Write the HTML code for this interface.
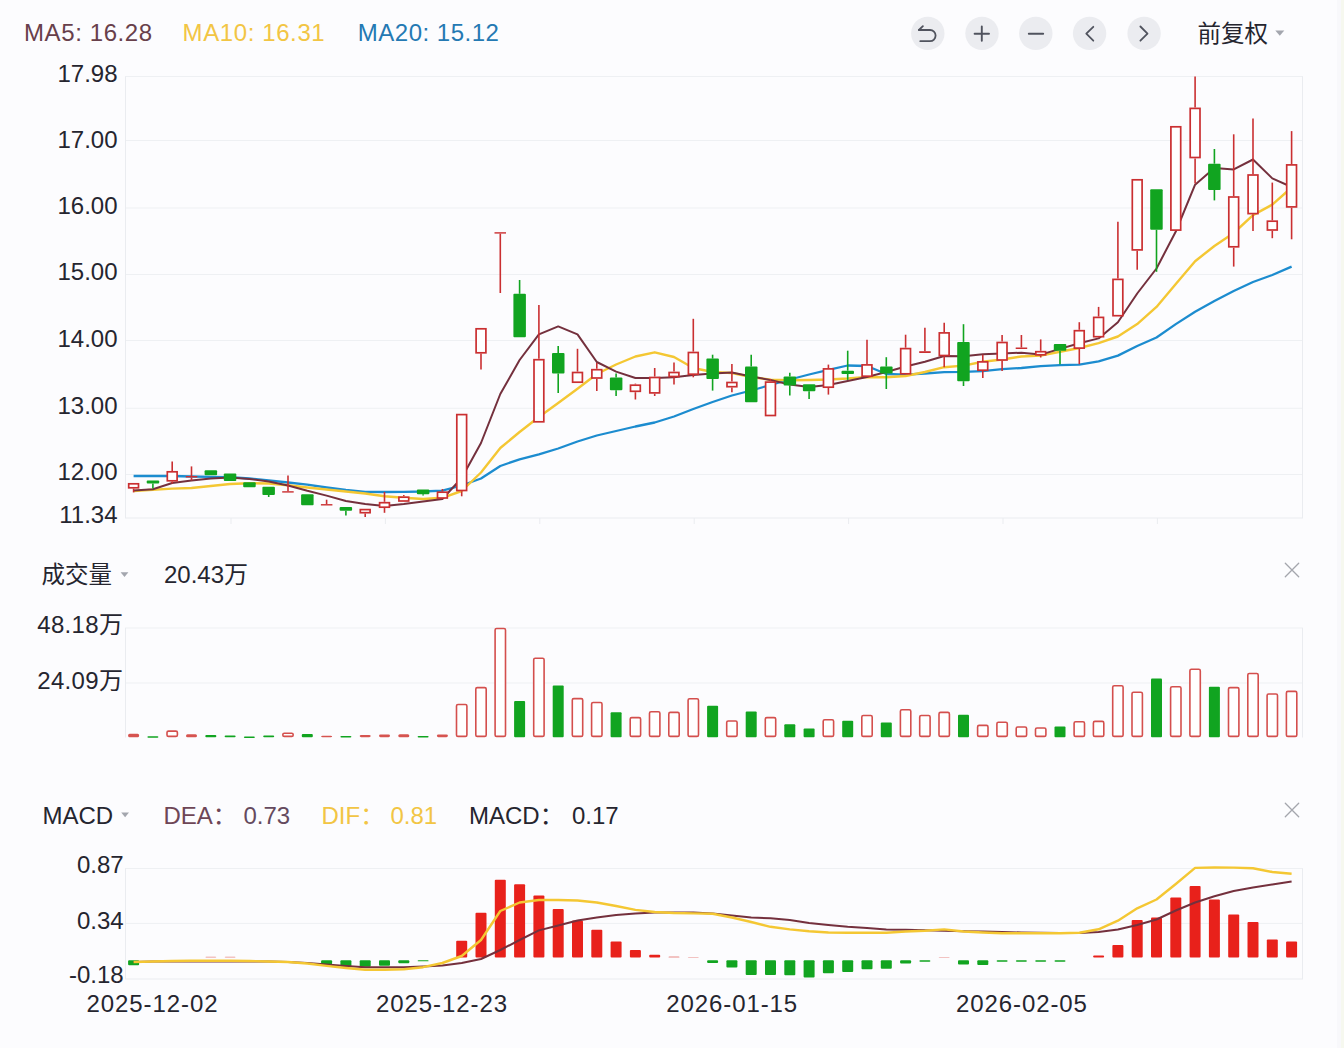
<!DOCTYPE html>
<html><head><meta charset="utf-8"><title>K</title>
<style>
html,body{margin:0;padding:0;background:#fcfcfe;}
body{width:1344px;height:1048px;overflow:hidden;}
svg{display:block;}
.lb{font-family:"Liberation Sans","Noto Sans CJK SC",sans-serif;font-size:24px;fill:#25252f;}
.dt{letter-spacing:0.9px;}
.cj{font-family:"Liberation Sans","Noto Sans CJK SC",sans-serif;font-size:23.5px;fill:#25252f;}
</style></head><body>
<svg width="1344" height="1048" viewBox="0 0 1344 1048">
<rect x="0" y="0" width="1344" height="1048" fill="#fcfcfe"/>
<rect x="1337" y="0" width="4" height="1048" fill="#f8f8fb"/>
<rect x="1341" y="0" width="3" height="1048" fill="#f6f8ef"/>
<line x1="125" y1="76.5" x2="1303" y2="76.5" stroke="#eef0f3" stroke-width="1"/>
<line x1="125" y1="140.5" x2="1303" y2="140.5" stroke="#eef0f3" stroke-width="1"/>
<line x1="125" y1="208.0" x2="1303" y2="208.0" stroke="#eef0f3" stroke-width="1"/>
<line x1="125" y1="274.5" x2="1303" y2="274.5" stroke="#eef0f3" stroke-width="1"/>
<line x1="125" y1="340.5" x2="1303" y2="340.5" stroke="#eef0f3" stroke-width="1"/>
<line x1="125" y1="408.3" x2="1303" y2="408.3" stroke="#eef0f3" stroke-width="1"/>
<line x1="125" y1="474.5" x2="1303" y2="474.5" stroke="#eef0f3" stroke-width="1"/>
<line x1="125" y1="518" x2="1303" y2="518" stroke="#eaecf0" stroke-width="1"/>
<line x1="125.5" y1="76.5" x2="125.5" y2="518" stroke="#eaecf0" stroke-width="1"/>
<line x1="1302.5" y1="76.5" x2="1302.5" y2="518" stroke="#eaecf0" stroke-width="1"/>
<line x1="231.0" y1="518" x2="231.0" y2="524" stroke="#eaecf0" stroke-width="1"/>
<line x1="385.4" y1="518" x2="385.4" y2="524" stroke="#eaecf0" stroke-width="1"/>
<line x1="539.8" y1="518" x2="539.8" y2="524" stroke="#eaecf0" stroke-width="1"/>
<line x1="694.2" y1="518" x2="694.2" y2="524" stroke="#eaecf0" stroke-width="1"/>
<line x1="848.6" y1="518" x2="848.6" y2="524" stroke="#eaecf0" stroke-width="1"/>
<line x1="1003.0" y1="518" x2="1003.0" y2="524" stroke="#eaecf0" stroke-width="1"/>
<line x1="1157.4" y1="518" x2="1157.4" y2="524" stroke="#eaecf0" stroke-width="1"/>
<text x="117.5" y="81.6" text-anchor="end" class="lb">17.98</text>
<text x="117.5" y="147.6" text-anchor="end" class="lb">17.00</text>
<text x="117.5" y="213.8" text-anchor="end" class="lb">16.00</text>
<text x="117.5" y="280.0" text-anchor="end" class="lb">15.00</text>
<text x="117.5" y="347.0" text-anchor="end" class="lb">14.00</text>
<text x="117.5" y="413.8" text-anchor="end" class="lb">13.00</text>
<text x="117.5" y="479.7" text-anchor="end" class="lb">12.00</text>
<text x="117.5" y="522.8" text-anchor="end" class="lb">11.34</text>
<path d="M133.6,476.0 C133.6,476.0 152.9,476.0 152.9,476.0 C152.9,476.0 172.2,476.0 172.2,476.0 C172.2,476.0 191.5,476.5 191.5,476.5 C191.5,476.5 210.8,476.8 210.8,476.8 C210.8,476.8 230.1,477.2 230.1,477.2 C230.1,477.2 249.4,478.5 249.4,478.5 C249.4,478.5 268.7,480.4 268.7,480.4 C268.7,480.4 288.0,482.5 288.0,482.5 C288.0,482.5 307.3,484.6 307.3,484.6 C307.3,484.6 326.6,487.5 326.6,487.5 C326.6,487.5 345.9,490.0 345.9,490.0 C345.9,490.0 365.2,491.8 365.2,491.8 C365.2,491.8 384.5,492.0 384.5,492.0 C384.5,492.0 403.8,491.8 403.8,491.8 C403.8,491.8 423.1,491.5 423.1,491.5 C423.1,491.5 442.4,490.7 442.4,490.7 C442.4,490.7 461.7,485.5 461.7,485.5 C461.7,485.5 481.0,478.5 481.0,478.5 C481.0,478.5 500.3,466.0 500.3,466.0 C500.3,466.0 519.6,459.3 519.6,459.3 C519.6,459.3 538.9,454.3 538.9,454.3 C538.9,454.3 558.2,448.5 558.2,448.5 C558.2,448.5 577.5,441.5 577.5,441.5 C577.5,441.5 596.8,435.5 596.8,435.5 C596.8,435.5 616.1,431.0 616.1,431.0 C616.1,431.0 635.4,426.5 635.4,426.5 C635.4,426.5 654.7,422.5 654.7,422.5 C654.7,422.5 674.0,416.5 674.0,416.5 C674.0,416.5 693.3,409.0 693.3,409.0 C693.3,409.0 712.6,402.0 712.6,402.0 C712.6,402.0 731.9,395.5 731.9,395.5 C731.9,395.5 751.2,390.5 751.2,390.5 C751.2,390.5 770.5,385.0 770.5,385.0 C770.5,385.0 789.8,379.5 789.8,379.5 C789.8,379.5 809.1,374.5 809.1,374.5 C809.1,374.5 828.4,369.8 828.4,369.8 C828.4,369.8 847.7,365.5 847.7,365.5 C847.7,365.5 867.0,366.0 867.0,366.0 C867.0,366.0 886.3,374.0 886.3,374.0 C886.3,374.0 905.6,374.6 905.6,374.6 C905.6,374.6 924.9,373.5 924.9,373.5 C924.9,373.5 944.2,372.2 944.2,372.2 C944.2,372.2 963.5,371.9 963.5,371.9 C963.5,371.9 982.8,371.1 982.8,371.1 C982.8,371.1 1002.1,369.2 1002.1,369.2 C1002.1,369.2 1021.4,368.0 1021.4,368.0 C1021.4,368.0 1040.7,366.1 1040.7,366.1 C1040.7,366.1 1060.0,365.1 1060.0,365.1 C1060.0,365.1 1079.3,364.6 1079.3,364.6 C1079.3,364.6 1098.6,361.3 1098.6,361.3 C1098.6,361.3 1117.9,355.6 1117.9,355.6 C1117.9,355.6 1137.2,346.0 1137.2,346.0 C1137.2,346.0 1156.5,337.5 1156.5,337.5 C1156.5,337.5 1175.8,324.1 1175.8,324.1 C1175.8,324.1 1195.1,311.7 1195.1,311.7 C1195.1,311.7 1214.4,301.0 1214.4,301.0 C1214.4,301.0 1233.7,291.0 1233.7,291.0 C1233.7,291.0 1253.0,282.0 1253.0,282.0 C1253.0,282.0 1272.3,275.0 1272.3,275.0 C1272.3,275.0 1291.6,266.6 1291.6,266.6" fill="none" stroke="#1c8ccf" stroke-width="2.3" stroke-linejoin="round"/>
<path d="M133.6,491.1 C133.6,491.1 152.9,489.8 152.9,489.8 C152.9,489.8 172.2,488.6 172.2,488.6 C172.2,488.6 191.5,488.0 191.5,488.0 C191.5,488.0 210.8,486.0 210.8,486.0 C210.8,486.0 230.1,484.0 230.1,484.0 C230.1,484.0 249.4,483.2 249.4,483.2 C249.4,483.2 268.7,483.5 268.7,483.5 C268.7,483.5 288.0,485.3 288.0,485.3 C288.0,485.3 307.3,487.5 307.3,487.5 C307.3,487.5 326.6,489.5 326.6,489.5 C326.6,489.5 345.9,491.5 345.9,491.5 C345.9,491.5 365.2,493.5 365.2,493.5 C365.2,493.5 384.5,496.3 384.5,496.3 C384.5,496.3 403.8,497.8 403.8,497.8 C403.8,497.8 423.1,499.0 423.1,499.0 C423.1,499.0 442.4,497.8 442.4,497.8 C442.4,497.8 461.7,491.0 461.7,491.0 C461.7,491.0 481.0,472.5 481.0,472.5 C481.0,472.5 500.3,448.0 500.3,448.0 C500.3,448.0 519.6,432.0 519.6,432.0 C519.6,432.0 538.9,417.0 538.9,417.0 C538.9,417.0 558.2,403.0 558.2,403.0 C558.2,403.0 577.5,388.8 577.5,388.8 C577.5,388.8 596.8,374.0 596.8,374.0 C596.8,374.0 616.1,364.5 616.1,364.5 C616.1,364.5 635.4,356.5 635.4,356.5 C635.4,356.5 654.7,352.3 654.7,352.3 C654.7,352.3 674.0,357.0 674.0,357.0 C674.0,357.0 693.3,368.0 693.3,368.0 C693.3,368.0 712.6,372.0 712.6,372.0 C712.6,372.0 731.9,373.0 731.9,373.0 C731.9,373.0 751.2,377.0 751.2,377.0 C751.2,377.0 770.5,379.7 770.5,379.7 C770.5,379.7 789.8,380.2 789.8,380.2 C789.8,380.2 809.1,380.0 809.1,380.0 C809.1,380.0 828.4,379.5 828.4,379.5 C828.4,379.5 847.7,378.5 847.7,378.5 C847.7,378.5 867.0,377.0 867.0,377.0 C867.0,377.0 886.3,377.2 886.3,377.2 C886.3,377.2 905.6,376.0 905.6,376.0 C905.6,376.0 924.9,372.0 924.9,372.0 C924.9,372.0 944.2,367.2 944.2,367.2 C944.2,367.2 963.5,365.6 963.5,365.6 C963.5,365.6 982.8,361.7 982.8,361.7 C982.8,361.7 1002.1,359.5 1002.1,359.5 C1002.1,359.5 1021.4,356.5 1021.4,356.5 C1021.4,356.5 1040.7,355.6 1040.7,355.6 C1040.7,355.6 1060.0,351.8 1060.0,351.8 C1060.0,351.8 1079.3,348.0 1079.3,348.0 C1079.3,348.0 1098.6,343.2 1098.6,343.2 C1098.6,343.2 1117.9,336.5 1117.9,336.5 C1117.9,336.5 1137.2,324.1 1137.2,324.1 C1137.2,324.1 1156.5,306.9 1156.5,306.9 C1156.5,306.9 1175.8,284.0 1175.8,284.0 C1175.8,284.0 1195.1,261.2 1195.1,261.2 C1195.1,261.2 1214.4,246.0 1214.4,246.0 C1214.4,246.0 1233.7,233.0 1233.7,233.0 C1233.7,233.0 1253.0,215.1 1253.0,215.1 C1253.0,215.1 1272.3,204.6 1272.3,204.6 C1272.3,204.6 1291.6,187.5 1291.6,187.5" fill="none" stroke="#f4c733" stroke-width="2.4" stroke-linejoin="round"/>
<path d="M133.6,490.5 C133.6,490.5 152.9,489.2 152.9,489.2 C152.9,489.2 172.2,483.0 172.2,483.0 C172.2,483.0 191.5,480.4 191.5,480.4 C191.5,480.4 210.8,478.5 210.8,478.5 C210.8,478.5 230.1,477.5 230.1,477.5 C230.1,477.5 249.4,479.0 249.4,479.0 C249.4,479.0 268.7,481.5 268.7,481.5 C268.7,481.5 288.0,485.5 288.0,485.5 C288.0,485.5 307.3,490.8 307.3,490.8 C307.3,490.8 326.6,495.6 326.6,495.6 C326.6,495.6 345.9,501.0 345.9,501.0 C345.9,501.0 365.2,503.9 365.2,503.9 C365.2,503.9 384.5,505.9 384.5,505.9 C384.5,505.9 403.8,504.0 403.8,504.0 C403.8,504.0 423.1,501.6 423.1,501.6 C423.1,501.6 442.4,499.0 442.4,499.0 C442.4,499.0 461.7,478.0 461.7,478.0 C461.7,478.0 481.0,443.0 481.0,443.0 C481.0,443.0 500.3,394.0 500.3,394.0 C500.3,394.0 519.6,360.0 519.6,360.0 C519.6,360.0 538.9,334.4 538.9,334.4 C538.9,334.4 558.2,326.4 558.2,326.4 C558.2,326.4 577.5,334.4 577.5,334.4 C577.5,334.4 596.8,362.0 596.8,362.0 C596.8,362.0 616.1,371.6 616.1,371.6 C616.1,371.6 635.4,378.0 635.4,378.0 C635.4,378.0 654.7,378.1 654.7,378.1 C654.7,378.1 674.0,377.3 674.0,377.3 C674.0,377.3 693.3,375.0 693.3,375.0 C693.3,375.0 712.6,373.4 712.6,373.4 C712.6,373.4 731.9,372.5 731.9,372.5 C731.9,372.5 751.2,376.6 751.2,376.6 C751.2,376.6 770.5,380.0 770.5,380.0 C770.5,380.0 789.8,384.6 789.8,384.6 C789.8,384.6 809.1,387.0 809.1,387.0 C809.1,387.0 828.4,385.0 828.4,385.0 C828.4,385.0 847.7,381.0 847.7,381.0 C847.7,381.0 867.0,377.0 867.0,377.0 C867.0,377.0 886.3,372.0 886.3,372.0 C886.3,372.0 905.6,366.5 905.6,366.5 C905.6,366.5 924.9,361.8 924.9,361.8 C924.9,361.8 944.2,356.0 944.2,356.0 C944.2,356.0 963.5,356.2 963.5,356.2 C963.5,356.2 982.8,354.2 982.8,354.2 C982.8,354.2 1002.1,353.6 1002.1,353.6 C1002.1,353.6 1021.4,352.7 1021.4,352.7 C1021.4,352.7 1040.7,354.6 1040.7,354.6 C1040.7,354.6 1060.0,348.9 1060.0,348.9 C1060.0,348.9 1079.3,343.2 1079.3,343.2 C1079.3,343.2 1098.6,338.4 1098.6,338.4 C1098.6,338.4 1117.9,322.2 1117.9,322.2 C1117.9,322.2 1137.2,293.5 1137.2,293.5 C1137.2,293.5 1156.5,268.5 1156.5,268.5 C1156.5,268.5 1175.8,231.5 1175.8,231.5 C1175.8,231.5 1195.1,184.7 1195.1,184.7 C1195.1,184.7 1214.4,167.9 1214.4,167.9 C1214.4,167.9 1233.7,169.4 1233.7,169.4 C1233.7,169.4 1253.0,159.5 1253.0,159.5 C1253.0,159.5 1272.3,178.4 1272.3,178.4 C1272.3,178.4 1291.6,187.0 1291.6,187.0" fill="none" stroke="#74303d" stroke-width="2" stroke-linejoin="round"/>
<line x1="133.6" y1="488.6" x2="133.6" y2="492.4" stroke="#ca2f31" stroke-width="1.6"/>
<rect x="128.7" y="483.8" width="9.8" height="4.0" fill="#fff" stroke="#ca2f31" stroke-width="1.7"/>
<line x1="152.9" y1="483.5" x2="152.9" y2="488.6" stroke="#11a420" stroke-width="1.6"/>
<rect x="146.7" y="480.4" width="12.5" height="3.1" fill="#11a420" rx="1"/>
<line x1="172.2" y1="461.4" x2="172.2" y2="470.9" stroke="#ca2f31" stroke-width="1.6"/>
<line x1="172.2" y1="481.6" x2="172.2" y2="483.5" stroke="#ca2f31" stroke-width="1.6"/>
<rect x="167.3" y="471.8" width="9.8" height="9.0" fill="#fff" stroke="#ca2f31" stroke-width="1.7"/>
<line x1="191.5" y1="466.4" x2="191.5" y2="476.0" stroke="#ca2f31" stroke-width="1.6"/>
<line x1="191.5" y1="477.5" x2="191.5" y2="480.4" stroke="#ca2f31" stroke-width="1.6"/>
<rect x="185.8" y="476.0" width="11.5" height="1.5" fill="#ca2f31"/>
<rect x="204.6" y="470.2" width="12.5" height="5.1" fill="#11a420" rx="1"/>
<rect x="223.8" y="473.4" width="12.5" height="7.6" fill="#11a420" rx="1"/>
<rect x="243.2" y="482.3" width="12.5" height="5.0" fill="#11a420" rx="1"/>
<line x1="268.7" y1="494.9" x2="268.7" y2="497.0" stroke="#11a420" stroke-width="1.6"/>
<rect x="262.4" y="486.7" width="12.5" height="8.2" fill="#11a420" rx="1"/>
<line x1="288.0" y1="475.6" x2="288.0" y2="491.2" stroke="#ca2f31" stroke-width="1.6"/>
<rect x="282.2" y="491.2" width="11.5" height="1.4" fill="#ca2f31"/>
<rect x="301.1" y="494.2" width="12.5" height="11.0" fill="#11a420" rx="1"/>
<line x1="326.6" y1="499.7" x2="326.6" y2="504.1" stroke="#ca2f31" stroke-width="1.6"/>
<rect x="320.9" y="504.1" width="11.5" height="1.4" fill="#ca2f31"/>
<line x1="345.9" y1="510.7" x2="345.9" y2="515.6" stroke="#11a420" stroke-width="1.6"/>
<rect x="339.6" y="507.0" width="12.5" height="3.7" fill="#11a420" rx="1"/>
<line x1="365.2" y1="513.5" x2="365.2" y2="517.0" stroke="#ca2f31" stroke-width="1.6"/>
<rect x="360.3" y="509.6" width="9.8" height="3.1" fill="#fff" stroke="#ca2f31" stroke-width="1.7"/>
<line x1="384.5" y1="491.9" x2="384.5" y2="501.8" stroke="#ca2f31" stroke-width="1.6"/>
<line x1="384.5" y1="508.0" x2="384.5" y2="512.8" stroke="#ca2f31" stroke-width="1.6"/>
<rect x="379.6" y="502.7" width="9.8" height="4.5" fill="#fff" stroke="#ca2f31" stroke-width="1.7"/>
<line x1="403.8" y1="495.0" x2="403.8" y2="496.3" stroke="#ca2f31" stroke-width="1.6"/>
<rect x="398.9" y="497.2" width="9.8" height="3.8" fill="#fff" stroke="#ca2f31" stroke-width="1.7"/>
<line x1="423.1" y1="494.2" x2="423.1" y2="495.6" stroke="#11a420" stroke-width="1.6"/>
<rect x="416.9" y="489.4" width="12.5" height="4.8" fill="#11a420" rx="1"/>
<line x1="442.4" y1="489.0" x2="442.4" y2="491.3" stroke="#ca2f31" stroke-width="1.6"/>
<rect x="437.5" y="492.2" width="9.8" height="5.8" fill="#fff" stroke="#ca2f31" stroke-width="1.7"/>
<line x1="461.7" y1="491.3" x2="461.7" y2="496.3" stroke="#ca2f31" stroke-width="1.6"/>
<rect x="456.8" y="414.6" width="9.8" height="75.9" fill="#fff" stroke="#ca2f31" stroke-width="1.7"/>
<line x1="481.0" y1="353.6" x2="481.0" y2="369.4" stroke="#ca2f31" stroke-width="1.6"/>
<rect x="476.1" y="328.8" width="9.8" height="24.0" fill="#fff" stroke="#ca2f31" stroke-width="1.7"/>
<line x1="500.3" y1="233.6" x2="500.3" y2="293.0" stroke="#ca2f31" stroke-width="1.6"/>
<rect x="494.5" y="232.2" width="11.5" height="1.4" fill="#ca2f31"/>
<line x1="519.6" y1="280.0" x2="519.6" y2="293.8" stroke="#11a420" stroke-width="1.6"/>
<rect x="513.4" y="293.8" width="12.5" height="43.5" fill="#11a420" rx="1"/>
<line x1="538.9" y1="305.0" x2="538.9" y2="358.8" stroke="#ca2f31" stroke-width="1.6"/>
<rect x="534.0" y="359.7" width="9.8" height="62.1" fill="#fff" stroke="#ca2f31" stroke-width="1.7"/>
<line x1="558.2" y1="345.9" x2="558.2" y2="353.0" stroke="#11a420" stroke-width="1.6"/>
<line x1="558.2" y1="373.6" x2="558.2" y2="393.0" stroke="#11a420" stroke-width="1.6"/>
<rect x="552.0" y="353.0" width="12.5" height="20.6" fill="#11a420" rx="1"/>
<line x1="577.5" y1="348.8" x2="577.5" y2="371.6" stroke="#ca2f31" stroke-width="1.6"/>
<rect x="572.6" y="372.5" width="9.8" height="9.7" fill="#fff" stroke="#ca2f31" stroke-width="1.7"/>
<line x1="596.8" y1="363.0" x2="596.8" y2="368.8" stroke="#ca2f31" stroke-width="1.6"/>
<line x1="596.8" y1="378.8" x2="596.8" y2="391.0" stroke="#ca2f31" stroke-width="1.6"/>
<rect x="591.9" y="369.7" width="9.8" height="8.3" fill="#fff" stroke="#ca2f31" stroke-width="1.7"/>
<line x1="616.1" y1="373.5" x2="616.1" y2="377.4" stroke="#11a420" stroke-width="1.6"/>
<line x1="616.1" y1="390.2" x2="616.1" y2="396.0" stroke="#11a420" stroke-width="1.6"/>
<rect x="609.9" y="377.4" width="12.5" height="12.8" fill="#11a420" rx="1"/>
<line x1="635.4" y1="383.6" x2="635.4" y2="384.4" stroke="#ca2f31" stroke-width="1.6"/>
<line x1="635.4" y1="392.2" x2="635.4" y2="399.5" stroke="#ca2f31" stroke-width="1.6"/>
<rect x="630.5" y="385.2" width="9.8" height="6.1" fill="#fff" stroke="#ca2f31" stroke-width="1.7"/>
<line x1="654.7" y1="368.0" x2="654.7" y2="376.6" stroke="#ca2f31" stroke-width="1.6"/>
<line x1="654.7" y1="393.8" x2="654.7" y2="396.0" stroke="#ca2f31" stroke-width="1.6"/>
<rect x="649.8" y="377.5" width="9.8" height="15.4" fill="#fff" stroke="#ca2f31" stroke-width="1.7"/>
<line x1="674.0" y1="362.5" x2="674.0" y2="371.6" stroke="#ca2f31" stroke-width="1.6"/>
<line x1="674.0" y1="377.3" x2="674.0" y2="384.4" stroke="#ca2f31" stroke-width="1.6"/>
<rect x="669.1" y="372.5" width="9.8" height="4.0" fill="#fff" stroke="#ca2f31" stroke-width="1.7"/>
<line x1="693.3" y1="318.8" x2="693.3" y2="351.6" stroke="#ca2f31" stroke-width="1.6"/>
<line x1="693.3" y1="375.0" x2="693.3" y2="377.3" stroke="#ca2f31" stroke-width="1.6"/>
<rect x="688.4" y="352.5" width="9.8" height="21.7" fill="#fff" stroke="#ca2f31" stroke-width="1.7"/>
<line x1="712.6" y1="354.7" x2="712.6" y2="358.6" stroke="#11a420" stroke-width="1.6"/>
<line x1="712.6" y1="378.9" x2="712.6" y2="390.6" stroke="#11a420" stroke-width="1.6"/>
<rect x="706.4" y="358.6" width="12.5" height="20.3" fill="#11a420" rx="1"/>
<line x1="731.9" y1="364.0" x2="731.9" y2="381.6" stroke="#ca2f31" stroke-width="1.6"/>
<line x1="731.9" y1="387.5" x2="731.9" y2="392.2" stroke="#ca2f31" stroke-width="1.6"/>
<rect x="727.0" y="382.5" width="9.8" height="4.2" fill="#fff" stroke="#ca2f31" stroke-width="1.7"/>
<line x1="751.2" y1="354.7" x2="751.2" y2="366.4" stroke="#11a420" stroke-width="1.6"/>
<rect x="745.0" y="366.4" width="12.5" height="35.9" fill="#11a420" rx="1"/>
<line x1="770.5" y1="378.9" x2="770.5" y2="381.2" stroke="#ca2f31" stroke-width="1.6"/>
<rect x="765.6" y="382.1" width="9.8" height="33.4" fill="#fff" stroke="#ca2f31" stroke-width="1.7"/>
<line x1="789.8" y1="372.7" x2="789.8" y2="376.5" stroke="#11a420" stroke-width="1.6"/>
<line x1="789.8" y1="385.5" x2="789.8" y2="395.4" stroke="#11a420" stroke-width="1.6"/>
<rect x="783.6" y="376.5" width="12.5" height="9.0" fill="#11a420" rx="1"/>
<line x1="809.1" y1="391.2" x2="809.1" y2="399.0" stroke="#11a420" stroke-width="1.6"/>
<rect x="802.9" y="384.2" width="12.5" height="7.0" fill="#11a420" rx="1"/>
<line x1="828.4" y1="364.6" x2="828.4" y2="368.0" stroke="#ca2f31" stroke-width="1.6"/>
<line x1="828.4" y1="388.0" x2="828.4" y2="394.6" stroke="#ca2f31" stroke-width="1.6"/>
<rect x="823.5" y="368.9" width="9.8" height="18.3" fill="#fff" stroke="#ca2f31" stroke-width="1.7"/>
<line x1="847.7" y1="350.7" x2="847.7" y2="370.7" stroke="#11a420" stroke-width="1.6"/>
<line x1="847.7" y1="373.9" x2="847.7" y2="379.9" stroke="#11a420" stroke-width="1.6"/>
<rect x="841.5" y="370.7" width="12.5" height="3.2" fill="#11a420" rx="1"/>
<line x1="867.0" y1="339.8" x2="867.0" y2="364.0" stroke="#ca2f31" stroke-width="1.6"/>
<rect x="862.1" y="364.9" width="9.8" height="11.3" fill="#fff" stroke="#ca2f31" stroke-width="1.7"/>
<line x1="886.3" y1="357.2" x2="886.3" y2="366.6" stroke="#11a420" stroke-width="1.6"/>
<line x1="886.3" y1="373.4" x2="886.3" y2="389.0" stroke="#11a420" stroke-width="1.6"/>
<rect x="880.1" y="366.6" width="12.5" height="6.8" fill="#11a420" rx="1"/>
<line x1="905.6" y1="334.7" x2="905.6" y2="347.7" stroke="#ca2f31" stroke-width="1.6"/>
<rect x="900.7" y="348.6" width="9.8" height="25.2" fill="#fff" stroke="#ca2f31" stroke-width="1.7"/>
<line x1="924.9" y1="327.8" x2="924.9" y2="351.2" stroke="#ca2f31" stroke-width="1.6"/>
<rect x="919.2" y="351.2" width="11.5" height="1.8" fill="#ca2f31"/>
<line x1="944.2" y1="322.7" x2="944.2" y2="332.0" stroke="#ca2f31" stroke-width="1.6"/>
<line x1="944.2" y1="356.2" x2="944.2" y2="367.2" stroke="#ca2f31" stroke-width="1.6"/>
<rect x="939.3" y="332.9" width="9.8" height="22.6" fill="#fff" stroke="#ca2f31" stroke-width="1.7"/>
<line x1="963.5" y1="324.2" x2="963.5" y2="341.9" stroke="#11a420" stroke-width="1.6"/>
<line x1="963.5" y1="381.2" x2="963.5" y2="386.0" stroke="#11a420" stroke-width="1.6"/>
<rect x="957.2" y="341.9" width="12.5" height="39.4" fill="#11a420" rx="1"/>
<line x1="982.8" y1="354.7" x2="982.8" y2="361.0" stroke="#ca2f31" stroke-width="1.6"/>
<line x1="982.8" y1="371.0" x2="982.8" y2="378.1" stroke="#ca2f31" stroke-width="1.6"/>
<rect x="977.9" y="361.9" width="9.8" height="8.3" fill="#fff" stroke="#ca2f31" stroke-width="1.7"/>
<line x1="1002.1" y1="335.0" x2="1002.1" y2="341.6" stroke="#ca2f31" stroke-width="1.6"/>
<line x1="1002.1" y1="360.8" x2="1002.1" y2="371.0" stroke="#ca2f31" stroke-width="1.6"/>
<rect x="997.2" y="342.5" width="9.8" height="17.5" fill="#fff" stroke="#ca2f31" stroke-width="1.7"/>
<line x1="1021.4" y1="335.0" x2="1021.4" y2="347.5" stroke="#ca2f31" stroke-width="1.6"/>
<rect x="1015.7" y="347.5" width="11.5" height="1.5" fill="#ca2f31"/>
<line x1="1040.7" y1="339.4" x2="1040.7" y2="350.8" stroke="#ca2f31" stroke-width="1.6"/>
<line x1="1040.7" y1="355.6" x2="1040.7" y2="357.5" stroke="#ca2f31" stroke-width="1.6"/>
<rect x="1035.8" y="351.7" width="9.8" height="3.1" fill="#fff" stroke="#ca2f31" stroke-width="1.7"/>
<line x1="1060.0" y1="350.8" x2="1060.0" y2="364.2" stroke="#11a420" stroke-width="1.6"/>
<rect x="1053.8" y="344.1" width="12.5" height="6.7" fill="#11a420" rx="1"/>
<line x1="1079.3" y1="322.2" x2="1079.3" y2="329.8" stroke="#ca2f31" stroke-width="1.6"/>
<line x1="1079.3" y1="348.9" x2="1079.3" y2="364.2" stroke="#ca2f31" stroke-width="1.6"/>
<rect x="1074.4" y="330.7" width="9.8" height="17.4" fill="#fff" stroke="#ca2f31" stroke-width="1.7"/>
<line x1="1098.6" y1="306.9" x2="1098.6" y2="316.5" stroke="#ca2f31" stroke-width="1.6"/>
<rect x="1093.7" y="317.4" width="9.8" height="19.3" fill="#fff" stroke="#ca2f31" stroke-width="1.7"/>
<line x1="1117.9" y1="221.7" x2="1117.9" y2="278.5" stroke="#ca2f31" stroke-width="1.6"/>
<rect x="1113.0" y="279.4" width="9.8" height="36.3" fill="#fff" stroke="#ca2f31" stroke-width="1.7"/>
<line x1="1137.2" y1="250.8" x2="1137.2" y2="269.7" stroke="#ca2f31" stroke-width="1.6"/>
<rect x="1132.3" y="179.8" width="9.8" height="70.1" fill="#fff" stroke="#ca2f31" stroke-width="1.7"/>
<line x1="1156.5" y1="229.8" x2="1156.5" y2="271.8" stroke="#11a420" stroke-width="1.6"/>
<rect x="1150.2" y="189.3" width="12.5" height="40.5" fill="#11a420" rx="1"/>
<rect x="1170.9" y="126.8" width="9.8" height="103.3" fill="#fff" stroke="#ca2f31" stroke-width="1.7"/>
<line x1="1195.1" y1="76.5" x2="1195.1" y2="107.6" stroke="#ca2f31" stroke-width="1.6"/>
<line x1="1195.1" y1="158.4" x2="1195.1" y2="183.6" stroke="#ca2f31" stroke-width="1.6"/>
<rect x="1190.2" y="108.4" width="9.8" height="49.1" fill="#fff" stroke="#ca2f31" stroke-width="1.7"/>
<line x1="1214.4" y1="149.0" x2="1214.4" y2="163.7" stroke="#11a420" stroke-width="1.6"/>
<line x1="1214.4" y1="190.0" x2="1214.4" y2="200.4" stroke="#11a420" stroke-width="1.6"/>
<rect x="1208.1" y="163.7" width="12.5" height="26.3" fill="#11a420" rx="1"/>
<line x1="1233.7" y1="134.3" x2="1233.7" y2="196.2" stroke="#ca2f31" stroke-width="1.6"/>
<line x1="1233.7" y1="247.7" x2="1233.7" y2="266.6" stroke="#ca2f31" stroke-width="1.6"/>
<rect x="1228.8" y="197.0" width="9.8" height="49.8" fill="#fff" stroke="#ca2f31" stroke-width="1.7"/>
<line x1="1253.0" y1="118.5" x2="1253.0" y2="174.2" stroke="#ca2f31" stroke-width="1.6"/>
<line x1="1253.0" y1="214.5" x2="1253.0" y2="230.9" stroke="#ca2f31" stroke-width="1.6"/>
<rect x="1248.1" y="175.0" width="9.8" height="38.6" fill="#fff" stroke="#ca2f31" stroke-width="1.7"/>
<line x1="1272.3" y1="182.6" x2="1272.3" y2="220.4" stroke="#ca2f31" stroke-width="1.6"/>
<line x1="1272.3" y1="230.9" x2="1272.3" y2="238.2" stroke="#ca2f31" stroke-width="1.6"/>
<rect x="1267.4" y="221.2" width="9.8" height="8.8" fill="#fff" stroke="#ca2f31" stroke-width="1.7"/>
<line x1="1291.6" y1="131.1" x2="1291.6" y2="164.1" stroke="#ca2f31" stroke-width="1.6"/>
<line x1="1291.6" y1="207.8" x2="1291.6" y2="239.3" stroke="#ca2f31" stroke-width="1.6"/>
<rect x="1286.7" y="164.9" width="9.8" height="42.0" fill="#fff" stroke="#ca2f31" stroke-width="1.7"/>
<line x1="125" y1="628.0" x2="1303" y2="628.0" stroke="#eef0f3"/>
<line x1="125" y1="683.0" x2="1303" y2="683.0" stroke="#eef0f3"/>
<line x1="125.5" y1="628.0" x2="125.5" y2="737.5" stroke="#eaecf0"/>
<line x1="1302.5" y1="628.0" x2="1302.5" y2="737.5" stroke="#eaecf0"/>
<rect x="128.1" y="733.7" width="11.0" height="3.5" fill="#d65450" rx="1.5"/>
<rect x="147.4" y="736.3" width="11.0" height="1.5" fill="#11a420" rx="1"/>
<rect x="167.0" y="731.1" width="10.4" height="5.3" fill="#fff" stroke="#d44f4d" stroke-width="1.6" rx="1.5"/>
<rect x="186.0" y="734.2" width="11.0" height="3.0" fill="#d65450" rx="1.5"/>
<rect x="205.3" y="735.0" width="11.0" height="2.2" fill="#11a420" rx="1"/>
<rect x="224.6" y="735.5" width="11.0" height="1.7" fill="#11a420" rx="1"/>
<rect x="243.9" y="736.6" width="11.0" height="1.5" fill="#11a420" rx="1"/>
<rect x="263.2" y="735.5" width="11.0" height="1.7" fill="#11a420" rx="1"/>
<rect x="282.8" y="733.2" width="10.4" height="3.2" fill="#fff" stroke="#d44f4d" stroke-width="1.6" rx="1.5"/>
<rect x="301.8" y="734.0" width="11.0" height="3.2" fill="#11a420" rx="1"/>
<rect x="321.1" y="735.8" width="11.0" height="1.5" fill="#d65450" rx="1.5"/>
<rect x="340.4" y="736.0" width="11.0" height="1.5" fill="#11a420" rx="1"/>
<rect x="359.7" y="735.0" width="11.0" height="2.2" fill="#d65450" rx="1.5"/>
<rect x="379.0" y="734.5" width="11.0" height="2.7" fill="#d65450" rx="1.5"/>
<rect x="398.3" y="734.2" width="11.0" height="3.0" fill="#d65450" rx="1.5"/>
<rect x="417.6" y="736.0" width="11.0" height="1.5" fill="#11a420" rx="1"/>
<rect x="436.9" y="734.5" width="11.0" height="2.7" fill="#d65450" rx="1.5"/>
<rect x="456.5" y="704.5" width="10.4" height="31.9" fill="#fff" stroke="#d44f4d" stroke-width="1.6" rx="1.5"/>
<rect x="475.8" y="687.6" width="10.4" height="48.8" fill="#fff" stroke="#d44f4d" stroke-width="1.6" rx="1.5"/>
<rect x="495.1" y="628.5" width="10.4" height="107.9" fill="#fff" stroke="#d44f4d" stroke-width="1.6" rx="1.5"/>
<rect x="514.1" y="701.1" width="11.0" height="36.1" fill="#11a420" rx="1"/>
<rect x="533.7" y="658.2" width="10.4" height="78.2" fill="#fff" stroke="#d44f4d" stroke-width="1.6" rx="1.5"/>
<rect x="552.7" y="685.5" width="11.0" height="51.7" fill="#11a420" rx="1"/>
<rect x="572.3" y="698.6" width="10.4" height="37.8" fill="#fff" stroke="#d44f4d" stroke-width="1.6" rx="1.5"/>
<rect x="591.6" y="702.5" width="10.4" height="33.9" fill="#fff" stroke="#d44f4d" stroke-width="1.6" rx="1.5"/>
<rect x="610.6" y="712.3" width="11.0" height="24.9" fill="#11a420" rx="1"/>
<rect x="630.2" y="717.6" width="10.4" height="18.8" fill="#fff" stroke="#d44f4d" stroke-width="1.6" rx="1.5"/>
<rect x="649.5" y="711.8" width="10.4" height="24.6" fill="#fff" stroke="#d44f4d" stroke-width="1.6" rx="1.5"/>
<rect x="668.8" y="712.4" width="10.4" height="24.0" fill="#fff" stroke="#d44f4d" stroke-width="1.6" rx="1.5"/>
<rect x="688.1" y="698.8" width="10.4" height="37.6" fill="#fff" stroke="#d44f4d" stroke-width="1.6" rx="1.5"/>
<rect x="707.1" y="705.8" width="11.0" height="31.4" fill="#11a420" rx="1"/>
<rect x="726.7" y="721.0" width="10.4" height="15.4" fill="#fff" stroke="#d44f4d" stroke-width="1.6" rx="1.5"/>
<rect x="745.7" y="711.6" width="11.0" height="25.6" fill="#11a420" rx="1"/>
<rect x="765.3" y="717.6" width="10.4" height="18.8" fill="#fff" stroke="#d44f4d" stroke-width="1.6" rx="1.5"/>
<rect x="784.3" y="724.2" width="11.0" height="13.0" fill="#11a420" rx="1"/>
<rect x="803.6" y="728.5" width="11.0" height="8.7" fill="#11a420" rx="1"/>
<rect x="823.2" y="719.7" width="10.4" height="16.7" fill="#fff" stroke="#d44f4d" stroke-width="1.6" rx="1.5"/>
<rect x="842.2" y="720.7" width="11.0" height="16.5" fill="#11a420" rx="1"/>
<rect x="861.8" y="715.5" width="10.4" height="20.9" fill="#fff" stroke="#d44f4d" stroke-width="1.6" rx="1.5"/>
<rect x="880.8" y="722.5" width="11.0" height="14.7" fill="#11a420" rx="1"/>
<rect x="900.4" y="709.8" width="10.4" height="26.6" fill="#fff" stroke="#d44f4d" stroke-width="1.6" rx="1.5"/>
<rect x="919.7" y="715.5" width="10.4" height="20.9" fill="#fff" stroke="#d44f4d" stroke-width="1.6" rx="1.5"/>
<rect x="939.0" y="712.4" width="10.4" height="24.0" fill="#fff" stroke="#d44f4d" stroke-width="1.6" rx="1.5"/>
<rect x="958.0" y="714.7" width="11.0" height="22.5" fill="#11a420" rx="1"/>
<rect x="977.6" y="725.4" width="10.4" height="11.0" fill="#fff" stroke="#d44f4d" stroke-width="1.6" rx="1.5"/>
<rect x="996.9" y="722.3" width="10.4" height="14.1" fill="#fff" stroke="#d44f4d" stroke-width="1.6" rx="1.5"/>
<rect x="1016.2" y="727.0" width="10.4" height="9.4" fill="#fff" stroke="#d44f4d" stroke-width="1.6" rx="1.5"/>
<rect x="1035.5" y="728.0" width="10.4" height="8.4" fill="#fff" stroke="#d44f4d" stroke-width="1.6" rx="1.5"/>
<rect x="1054.5" y="726.6" width="11.0" height="10.6" fill="#11a420" rx="1"/>
<rect x="1074.1" y="721.8" width="10.4" height="14.6" fill="#fff" stroke="#d44f4d" stroke-width="1.6" rx="1.5"/>
<rect x="1093.4" y="721.4" width="10.4" height="15.0" fill="#fff" stroke="#d44f4d" stroke-width="1.6" rx="1.5"/>
<rect x="1112.7" y="685.8" width="10.4" height="50.6" fill="#fff" stroke="#d44f4d" stroke-width="1.6" rx="1.5"/>
<rect x="1132.0" y="692.2" width="10.4" height="44.2" fill="#fff" stroke="#d44f4d" stroke-width="1.6" rx="1.5"/>
<rect x="1151.0" y="678.6" width="11.0" height="58.6" fill="#11a420" rx="1"/>
<rect x="1170.6" y="686.8" width="10.4" height="49.6" fill="#fff" stroke="#d44f4d" stroke-width="1.6" rx="1.5"/>
<rect x="1189.9" y="669.2" width="10.4" height="67.2" fill="#fff" stroke="#d44f4d" stroke-width="1.6" rx="1.5"/>
<rect x="1208.9" y="686.8" width="11.0" height="50.4" fill="#11a420" rx="1"/>
<rect x="1228.5" y="687.6" width="10.4" height="48.8" fill="#fff" stroke="#d44f4d" stroke-width="1.6" rx="1.5"/>
<rect x="1247.8" y="673.5" width="10.4" height="62.9" fill="#fff" stroke="#d44f4d" stroke-width="1.6" rx="1.5"/>
<rect x="1267.1" y="694.0" width="10.4" height="42.4" fill="#fff" stroke="#d44f4d" stroke-width="1.6" rx="1.5"/>
<rect x="1286.4" y="691.4" width="10.4" height="45.0" fill="#fff" stroke="#d44f4d" stroke-width="1.6" rx="1.5"/>
<line x1="125" y1="868.5" x2="1303" y2="868.5" stroke="#eef0f3"/>
<line x1="125" y1="923.4" x2="1303" y2="923.4" stroke="#eef0f3"/>
<line x1="125" y1="979.0" x2="1303" y2="979.0" stroke="#eaecf0"/>
<line x1="125.5" y1="868.5" x2="125.5" y2="979.0" stroke="#eaecf0"/>
<line x1="1302.5" y1="868.5" x2="1302.5" y2="979.0" stroke="#eaecf0"/>
<rect x="128.1" y="960.3" width="11" height="5.0" fill="#11a420" rx="1"/>
<rect x="205.3" y="956.7" width="11" height="0.8" fill="#e88a86" rx="1"/>
<rect x="224.6" y="956.7" width="11" height="0.8" fill="#e88a86" rx="1"/>
<rect x="321.1" y="960.3" width="11" height="4.0" fill="#11a420" rx="1"/>
<rect x="340.4" y="960.3" width="11" height="6.5" fill="#11a420" rx="1"/>
<rect x="359.7" y="960.3" width="11" height="6.5" fill="#11a420" rx="1"/>
<rect x="379.0" y="960.3" width="11" height="5.5" fill="#11a420" rx="1"/>
<rect x="398.3" y="960.3" width="11" height="3.0" fill="#11a420" rx="1"/>
<rect x="417.6" y="960.3" width="11" height="1.0" fill="#11a420" rx="1"/>
<rect x="456.2" y="940.7" width="11" height="16.8" fill="#e8211b" rx="1"/>
<rect x="475.5" y="912.8" width="11" height="44.7" fill="#e8211b" rx="1"/>
<rect x="494.8" y="879.7" width="11" height="77.8" fill="#e8211b" rx="1"/>
<rect x="514.1" y="884.2" width="11" height="73.3" fill="#e8211b" rx="1"/>
<rect x="533.4" y="895.4" width="11" height="62.1" fill="#e8211b" rx="1"/>
<rect x="552.7" y="908.9" width="11" height="48.6" fill="#e8211b" rx="1"/>
<rect x="572.0" y="920.6" width="11" height="36.9" fill="#e8211b" rx="1"/>
<rect x="591.3" y="929.7" width="11" height="27.8" fill="#e8211b" rx="1"/>
<rect x="610.6" y="941.4" width="11" height="16.1" fill="#e8211b" rx="1"/>
<rect x="629.9" y="950.0" width="11" height="7.5" fill="#e8211b" rx="1"/>
<rect x="649.2" y="954.7" width="11" height="2.8" fill="#e8211b" rx="1"/>
<rect x="668.5" y="956.5" width="11" height="1.0" fill="#e88a86" rx="1"/>
<rect x="687.8" y="956.9" width="11" height="0.6" fill="#e88a86" rx="1"/>
<rect x="707.1" y="960.3" width="11" height="2.6" fill="#11a420" rx="1"/>
<rect x="726.4" y="960.3" width="11" height="7.3" fill="#11a420" rx="1"/>
<rect x="745.7" y="960.3" width="11" height="14.6" fill="#11a420" rx="1"/>
<rect x="765.0" y="960.3" width="11" height="14.6" fill="#11a420" rx="1"/>
<rect x="784.3" y="960.3" width="11" height="15.0" fill="#11a420" rx="1"/>
<rect x="803.6" y="960.3" width="11" height="17.1" fill="#11a420" rx="1"/>
<rect x="822.9" y="960.3" width="11" height="12.9" fill="#11a420" rx="1"/>
<rect x="842.2" y="960.3" width="11" height="11.6" fill="#11a420" rx="1"/>
<rect x="861.5" y="960.3" width="11" height="9.0" fill="#11a420" rx="1"/>
<rect x="880.8" y="960.3" width="11" height="8.5" fill="#11a420" rx="1"/>
<rect x="900.1" y="960.3" width="11" height="3.3" fill="#11a420" rx="1"/>
<rect x="919.4" y="960.3" width="11" height="1.5" fill="#11a420" rx="1"/>
<rect x="938.7" y="956.9" width="11" height="0.6" fill="#e88a86" rx="1"/>
<rect x="958.0" y="960.3" width="11" height="4.1" fill="#11a420" rx="1"/>
<rect x="977.3" y="960.3" width="11" height="4.6" fill="#11a420" rx="1"/>
<rect x="996.6" y="960.3" width="11" height="1.5" fill="#11a420" rx="1"/>
<rect x="1015.9" y="960.3" width="11" height="1.5" fill="#11a420" rx="1"/>
<rect x="1035.2" y="960.3" width="11" height="1.5" fill="#11a420" rx="1"/>
<rect x="1054.5" y="960.3" width="11" height="1.5" fill="#11a420" rx="1"/>
<rect x="1093.1" y="955.5" width="11" height="2.0" fill="#e8211b" rx="1"/>
<rect x="1112.4" y="945.0" width="11" height="12.5" fill="#e8211b" rx="1"/>
<rect x="1131.7" y="919.9" width="11" height="37.6" fill="#e8211b" rx="1"/>
<rect x="1151.0" y="917.5" width="11" height="40.0" fill="#e8211b" rx="1"/>
<rect x="1170.3" y="897.5" width="11" height="60.0" fill="#e8211b" rx="1"/>
<rect x="1189.6" y="886.1" width="11" height="71.4" fill="#e8211b" rx="1"/>
<rect x="1208.9" y="899.5" width="11" height="58.0" fill="#e8211b" rx="1"/>
<rect x="1228.2" y="914.5" width="11" height="43.0" fill="#e8211b" rx="1"/>
<rect x="1247.5" y="922.0" width="11" height="35.5" fill="#e8211b" rx="1"/>
<rect x="1266.8" y="939.5" width="11" height="18.0" fill="#e8211b" rx="1"/>
<rect x="1286.1" y="941.5" width="11" height="16.0" fill="#e8211b" rx="1"/>
<path d="M133.6,962.0 C133.6,962.0 152.9,961.5 152.9,961.5 C152.9,961.5 172.2,961.5 172.2,961.5 C172.2,961.5 191.5,961.5 191.5,961.5 C191.5,961.5 210.8,961.5 210.8,961.5 C210.8,961.5 230.1,961.5 230.1,961.5 C230.1,961.5 249.4,961.5 249.4,961.5 C249.4,961.5 268.7,961.5 268.7,961.5 C268.7,961.5 288.0,962.0 288.0,962.0 C288.0,962.0 307.3,963.0 307.3,963.0 C307.3,963.0 326.6,964.6 326.6,964.6 C326.6,964.6 345.9,966.0 345.9,966.0 C345.9,966.0 365.2,967.2 365.2,967.2 C365.2,967.2 384.5,967.2 384.5,967.2 C384.5,967.2 403.8,967.2 403.8,967.2 C403.8,967.2 423.1,966.5 423.1,966.5 C423.1,966.5 442.4,965.5 442.4,965.5 C442.4,965.5 461.7,963.0 461.7,963.0 C461.7,963.0 481.0,959.0 481.0,959.0 C481.0,959.0 500.3,950.0 500.3,950.0 C500.3,950.0 519.6,940.0 519.6,940.0 C519.6,940.0 538.9,930.4 538.9,930.4 C538.9,930.4 558.2,925.5 558.2,925.5 C558.2,925.5 577.5,920.5 577.5,920.5 C577.5,920.5 596.8,917.5 596.8,917.5 C596.8,917.5 616.1,915.0 616.1,915.0 C616.1,915.0 635.4,913.5 635.4,913.5 C635.4,913.5 654.7,912.5 654.7,912.5 C654.7,912.5 674.0,912.5 674.0,912.5 C674.0,912.5 693.3,912.5 693.3,912.5 C693.3,912.5 712.6,913.5 712.6,913.5 C712.6,913.5 731.9,915.5 731.9,915.5 C731.9,915.5 751.2,917.5 751.2,917.5 C751.2,917.5 770.5,918.2 770.5,918.2 C770.5,918.2 789.8,920.0 789.8,920.0 C789.8,920.0 809.1,922.9 809.1,922.9 C809.1,922.9 828.4,925.0 828.4,925.0 C828.4,925.0 847.7,926.8 847.7,926.8 C847.7,926.8 867.0,928.0 867.0,928.0 C867.0,928.0 886.3,929.4 886.3,929.4 C886.3,929.4 905.6,929.8 905.6,929.8 C905.6,929.8 924.9,930.2 924.9,930.2 C924.9,930.2 944.2,930.7 944.2,930.7 C944.2,930.7 963.5,931.2 963.5,931.2 C963.5,931.2 982.8,931.6 982.8,931.6 C982.8,931.6 1002.1,932.0 1002.1,932.0 C1002.1,932.0 1021.4,932.5 1021.4,932.5 C1021.4,932.5 1040.7,932.8 1040.7,932.8 C1040.7,932.8 1060.0,933.0 1060.0,933.0 C1060.0,933.0 1079.3,933.0 1079.3,933.0 C1079.3,933.0 1098.6,932.0 1098.6,932.0 C1098.6,932.0 1117.9,929.5 1117.9,929.5 C1117.9,929.5 1137.2,925.0 1137.2,925.0 C1137.2,925.0 1156.5,919.5 1156.5,919.5 C1156.5,919.5 1175.8,910.5 1175.8,910.5 C1175.8,910.5 1195.1,902.5 1195.1,902.5 C1195.1,902.5 1214.4,896.3 1214.4,896.3 C1214.4,896.3 1233.7,891.0 1233.7,891.0 C1233.7,891.0 1253.0,887.5 1253.0,887.5 C1253.0,887.5 1272.3,884.5 1272.3,884.5 C1272.3,884.5 1291.6,881.5 1291.6,881.5" fill="none" stroke="#74303d" stroke-width="2" stroke-linejoin="round"/>
<path d="M133.6,962.0 C133.6,962.0 152.9,961.5 152.9,961.5 C152.9,961.5 172.2,961.0 172.2,961.0 C172.2,961.0 191.5,960.8 191.5,960.8 C191.5,960.8 210.8,960.7 210.8,960.7 C210.8,960.7 230.1,960.8 230.1,960.8 C230.1,960.8 249.4,961.0 249.4,961.0 C249.4,961.0 268.7,961.5 268.7,961.5 C268.7,961.5 288.0,962.0 288.0,962.0 C288.0,962.0 307.3,963.5 307.3,963.5 C307.3,963.5 326.6,965.9 326.6,965.9 C326.6,965.9 345.9,968.0 345.9,968.0 C345.9,968.0 365.2,969.8 365.2,969.8 C365.2,969.8 384.5,969.8 384.5,969.8 C384.5,969.8 403.8,969.3 403.8,969.3 C403.8,969.3 423.1,967.2 423.1,967.2 C423.1,967.2 442.4,963.0 442.4,963.0 C442.4,963.0 461.7,956.0 461.7,956.0 C461.7,956.0 481.0,940.0 481.0,940.0 C481.0,940.0 500.3,911.0 500.3,911.0 C500.3,911.0 519.6,902.5 519.6,902.5 C519.6,902.5 538.9,900.0 538.9,900.0 C538.9,900.0 558.2,900.0 558.2,900.0 C558.2,900.0 577.5,900.5 577.5,900.5 C577.5,900.5 596.8,902.5 596.8,902.5 C596.8,902.5 616.1,906.0 616.1,906.0 C616.1,906.0 635.4,909.9 635.4,909.9 C635.4,909.9 654.7,912.0 654.7,912.0 C654.7,912.0 674.0,913.0 674.0,913.0 C674.0,913.0 693.3,913.4 693.3,913.4 C693.3,913.4 712.6,913.8 712.6,913.8 C712.6,913.8 731.9,917.5 731.9,917.5 C731.9,917.5 751.2,922.0 751.2,922.0 C751.2,922.0 770.5,926.8 770.5,926.8 C770.5,926.8 789.8,929.4 789.8,929.4 C789.8,929.4 809.1,931.2 809.1,931.2 C809.1,931.2 828.4,932.5 828.4,932.5 C828.4,932.5 847.7,932.8 847.7,932.8 C847.7,932.8 867.0,932.8 867.0,932.8 C867.0,932.8 886.3,932.8 886.3,932.8 C886.3,932.8 905.6,931.5 905.6,931.5 C905.6,931.5 924.9,930.7 924.9,930.7 C924.9,930.7 944.2,929.4 944.2,929.4 C944.2,929.4 963.5,931.5 963.5,931.5 C963.5,931.5 982.8,932.5 982.8,932.5 C982.8,932.5 1002.1,933.3 1002.1,933.3 C1002.1,933.3 1021.4,933.3 1021.4,933.3 C1021.4,933.3 1040.7,933.3 1040.7,933.3 C1040.7,933.3 1060.0,933.2 1060.0,933.2 C1060.0,933.2 1079.3,932.8 1079.3,932.8 C1079.3,932.8 1098.6,929.3 1098.6,929.3 C1098.6,929.3 1117.9,920.7 1117.9,920.7 C1117.9,920.7 1137.2,908.3 1137.2,908.3 C1137.2,908.3 1156.5,899.5 1156.5,899.5 C1156.5,899.5 1175.8,884.0 1175.8,884.0 C1175.8,884.0 1195.1,867.9 1195.1,867.9 C1195.1,867.9 1214.4,867.5 1214.4,867.5 C1214.4,867.5 1233.7,867.6 1233.7,867.6 C1233.7,867.6 1253.0,868.2 1253.0,868.2 C1253.0,868.2 1272.3,872.0 1272.3,872.0 C1272.3,872.0 1291.6,873.8 1291.6,873.8" fill="none" stroke="#f4c733" stroke-width="2.4" stroke-linejoin="round"/>
<text x="123.6" y="873.3" text-anchor="end" class="lb">0.87</text>
<text x="123.6" y="929.0" text-anchor="end" class="lb">0.34</text>
<text x="123.6" y="982.8" text-anchor="end" class="lb">-0.18</text>
<text x="123.2" y="632.8" text-anchor="end" class="lb" style="letter-spacing:0.3px">48.18万</text>
<text x="123.2" y="689.0" text-anchor="end" class="lb" style="letter-spacing:0.3px">24.09万</text>
<text x="152.5" y="1011.8" text-anchor="middle" class="lb dt">2025-12-02</text>
<text x="442.0" y="1011.8" text-anchor="middle" class="lb dt">2025-12-23</text>
<text x="732.2" y="1011.8" text-anchor="middle" class="lb dt">2026-01-15</text>
<text x="1021.9" y="1011.8" text-anchor="middle" class="lb dt">2026-02-05</text>
<text x="24" y="41.4" class="lb" style="fill:#68404b;letter-spacing:0.6px">MA5: 16.28</text>
<text x="182.6" y="41.4" class="lb" style="fill:#f2c544;letter-spacing:0.6px">MA10: 16.31</text>
<text x="357.8" y="41.4" class="lb" style="fill:#2479b3;letter-spacing:0.5px">MA20: 15.12</text>
<circle cx="927.8" cy="33.4" r="16.7" fill="#ebecf0"/>
<circle cx="982.0" cy="33.4" r="16.7" fill="#ebecf0"/>
<circle cx="1035.8" cy="33.4" r="16.7" fill="#ebecf0"/>
<circle cx="1089.6" cy="33.4" r="16.7" fill="#ebecf0"/>
<circle cx="1144.1" cy="33.4" r="16.7" fill="#ebecf0"/>
<path d="M918.9,30 H930 A5.6,5.6 0 0 1 930,41.2 H920.3" fill="none" stroke="#50535e" stroke-width="1.8" stroke-linecap="round" stroke-linejoin="round"/>
<path d="M918.9,30 L922.9,26.2" fill="none" stroke="#50535e" stroke-width="1.8" stroke-linecap="round"/>
<path d="M974.6,33.7 H989 M981.8,26.5 V40.7" stroke="#50535e" stroke-width="1.9" stroke-linecap="round"/>
<path d="M1028.8,33.7 H1043.2" stroke="#50535e" stroke-width="1.9" stroke-linecap="round"/>
<path d="M1093.3,26.8 L1086.3,33.7 L1093.3,40.7" fill="none" stroke="#50535e" stroke-width="1.8" stroke-linecap="round" stroke-linejoin="round"/>
<path d="M1140.4,26.5 L1147.5,33.6 L1140.4,40.7" fill="none" stroke="#50535e" stroke-width="1.8" stroke-linecap="round" stroke-linejoin="round"/>
<text x="1197.5" y="41.5" class="cj">前复权</text>
<path d="M1275.3,30.6 L1284.3,30.6 L1279.8,35.8 Z" fill="#a3a6ae"/>
<text x="41.5" y="583.2" class="cj">成交量</text>
<path d="M120.6,572.3 L128.4,572.3 L124.5,577 Z" fill="#a3a6ae"/>
<text x="164" y="583.2" class="lb">20.43万</text>
<text x="42.5" y="823.5" class="lb">MACD</text>
<path d="M121.2,812.5 L129,812.5 L125.1,817.2 Z" fill="#a3a6ae"/>
<text x="163.5" y="823.5" class="lb" style="fill:#6e4656">DEA：</text>
<text x="243.5" y="823.5" class="lb" style="fill:#654a5e">0.73</text>
<text x="321.5" y="823.5" class="lb" style="fill:#f2c544">DIF：</text>
<text x="390.5" y="823.5" class="lb" style="fill:#f2c544">0.81</text>
<text x="469" y="823.5" class="lb">MACD：</text>
<text x="572" y="823.5" class="lb">0.17</text>
<path d="M1285.3,563.3 L1298.7,576.7 M1298.7,563.3 L1285.3,576.7" stroke="#a4a6ad" stroke-width="1.3" stroke-linecap="round"/>
<path d="M1285.3,803.3 L1298.7,816.7 M1298.7,803.3 L1285.3,816.7" stroke="#a4a6ad" stroke-width="1.3" stroke-linecap="round"/>
</svg>
</body></html>
